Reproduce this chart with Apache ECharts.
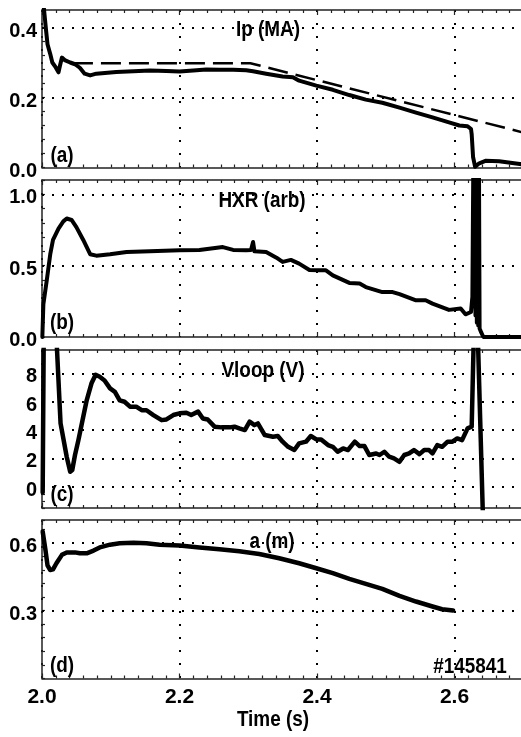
<!DOCTYPE html>
<html>
<head>
<meta charset="utf-8">
<script src="https://cdn.jsdelivr.net/npm/echarts@6/dist/echarts.min.js"></script>
<style>
html, body { margin: 0; padding: 0; background: #fff; }
#main { width: 521px; height: 737px; }
</style>
</head>
<body>
<div id="main"></div>
<script>
// shot #145841, time in s
var ipTime = [2.002, 2.006, 2.008, 2.012, 2.015, 2.020, 2.024, 2.026, 2.029, 2.033, 2.041, 2.048, 2.055, 2.062, 2.070, 2.079, 2.108, 2.133, 2.157, 2.181, 2.200, 2.220, 2.239, 2.258, 2.278, 2.297, 2.307, 2.326, 2.350, 2.365, 2.374, 2.399, 2.423, 2.447, 2.471, 2.495, 2.520, 2.544, 2.568, 2.592, 2.607, 2.619, 2.624, 2.625, 2.627, 2.630, 2.636, 2.645, 2.665, 2.684, 2.695, 2.700];
var ipVal = [0.47, 0.39, 0.352, 0.324, 0.300, 0.286, 0.272, 0.290, 0.314, 0.307, 0.300, 0.295, 0.285, 0.268, 0.263, 0.268, 0.273, 0.275, 0.277, 0.276, 0.274, 0.277, 0.280, 0.279, 0.279, 0.278, 0.275, 0.268, 0.260, 0.258, 0.248, 0.234, 0.222, 0.207, 0.194, 0.185, 0.171, 0.157, 0.143, 0.129, 0.120, 0.118, 0.110, 0.095, 0.030, 0.002, 0.012, 0.019, 0.018, 0.013, 0.010, 0.009];
var ipRefTime = [2.045, 2.303, 2.700];
var ipRefVal = [0.298, 0.298, 0.100];

var hxrTime = [2.0005, 2.002, 2.007, 2.012, 2.016, 2.024, 2.031, 2.036, 2.043, 2.050, 2.060, 2.070, 2.079, 2.099, 2.123, 2.157, 2.200, 2.229, 2.263, 2.278, 2.297, 2.304, 2.307, 2.309, 2.326, 2.341, 2.350, 2.362, 2.374, 2.389, 2.403, 2.413, 2.423, 2.447, 2.462, 2.471, 2.495, 2.510, 2.520, 2.544, 2.558, 2.568, 2.592, 2.609, 2.616, 2.624, 2.626, 2.6275, 2.6285, 2.6295, 2.6305, 2.6315, 2.6325, 2.6335, 2.6345, 2.6355, 2.6365, 2.639, 2.642, 2.700];
var hxrVal = [0.0, 0.23, 0.40, 0.58, 0.68, 0.76, 0.81, 0.83, 0.82, 0.77, 0.68, 0.58, 0.57, 0.58, 0.596, 0.60, 0.607, 0.61, 0.63, 0.61, 0.607, 0.61, 0.666, 0.60, 0.596, 0.556, 0.526, 0.54, 0.514, 0.47, 0.467, 0.467, 0.432, 0.379, 0.374, 0.35, 0.315, 0.315, 0.30, 0.257, 0.257, 0.234, 0.19, 0.20, 0.159, 0.175, 0.28, 1.3, 0.25, 1.3, 0.15, 1.3, 0.1, 1.3, 0.08, 1.3, 0.06, 0.03, 0.0, 0.0];

var vloopTime = [2.001, 2.003, 2.021, 2.027, 2.036, 2.041, 2.044, 2.048, 2.053, 2.060, 2.065, 2.072, 2.078, 2.084, 2.091, 2.099, 2.106, 2.113, 2.120, 2.128, 2.137, 2.145, 2.152, 2.162, 2.174, 2.181, 2.191, 2.200, 2.210, 2.217, 2.227, 2.234, 2.241, 2.251, 2.261, 2.273, 2.280, 2.287, 2.295, 2.302, 2.309, 2.314, 2.324, 2.336, 2.343, 2.350, 2.358, 2.367, 2.374, 2.384, 2.391, 2.399, 2.406, 2.416, 2.423, 2.430, 2.438, 2.445, 2.455, 2.462, 2.469, 2.476, 2.486, 2.491, 2.498, 2.505, 2.512, 2.520, 2.527, 2.534, 2.541, 2.549, 2.556, 2.563, 2.568, 2.575, 2.582, 2.590, 2.597, 2.604, 2.611, 2.619, 2.625, 2.628, 2.634, 2.641, 2.643];
var vloopVal = [-0.4, 14, 10.5, 4.47, 2.1, 1.06, 1.18, 2.24, 3.3, 4.94, 6.1, 7.3, 7.9, 7.76, 7.5, 6.94, 6.7, 6.1, 6.0, 5.65, 5.65, 5.4, 5.4, 5.06, 4.7, 4.75, 5.06, 5.18, 5.22, 5.06, 5.3, 4.82, 4.75, 4.24, 4.19, 4.19, 4.24, 4.12, 4.0, 4.59, 4.35, 4.47, 3.65, 3.53, 3.58, 3.18, 2.82, 2.59, 3.06, 3.18, 3.58, 3.34, 3.34, 2.94, 2.82, 2.47, 2.7, 2.59, 3.18, 2.87, 2.87, 2.24, 2.35, 2.24, 2.47, 2.12, 2.0, 1.76, 2.24, 2.35, 2.59, 2.3, 2.59, 2.59, 2.35, 2.94, 2.82, 3.18, 3.18, 3.41, 3.29, 4.12, 4.24, 10.5, 10.5, -1.5, -4];

var aTime = [2.001, 2.003, 2.005, 2.008, 2.012, 2.016, 2.021, 2.029, 2.036, 2.048, 2.055, 2.065, 2.075, 2.084, 2.099, 2.113, 2.133, 2.152, 2.171, 2.200, 2.229, 2.258, 2.287, 2.316, 2.345, 2.374, 2.399, 2.423, 2.447, 2.471, 2.495, 2.520, 2.544, 2.568, 2.582, 2.598];
var aVal = [0.649, 0.641, 0.568, 0.500, 0.479, 0.482, 0.509, 0.546, 0.557, 0.557, 0.553, 0.553, 0.565, 0.579, 0.591, 0.597, 0.599, 0.597, 0.591, 0.587, 0.579, 0.571, 0.562, 0.550, 0.531, 0.509, 0.487, 0.465, 0.440, 0.418, 0.396, 0.365, 0.340, 0.318, 0.306, 0.300];

var timeTicks = [2.0, 2.2, 2.4, 2.6];
var ipTicks = [0.0, 0.2, 0.4];
var hxrTicks = [0.0, 0.5, 1.0];
var vloopTicks = [0, 2, 4, 6, 8];
var aTicks = [0.3, 0.6];
var panelTitles = ['Ip (MA)', 'HXR (arb)', 'Vloop (V)', 'a (m)'];
var panelTags = ['(a)', '(b)', '(c)', '(d)'];

var FONT = '"Liberation Sans", Arial, sans-serif';
var AXIS_COLOR = '#222';

function pairs(t, v) {
  return t.map(function (x, i) { return [x, v[i]]; });
}

function pick(ticks, v, digits) {
  for (var k = 0; k < ticks.length; k++) {
    if (Math.abs(v - ticks[k]) < 1e-6) return ticks[k].toFixed(digits);
  }
  return '';
}

// panel layout: y range, minor step for ticks, labels
var panels = [
  { top: 10, height: 157.5, min: 0, max: 0.45, step: 0.04, ticks: ipTicks, digits: 1 },
  { top: 180, height: 157, min: 0, max: 1.1, step: 0.1, ticks: hxrTicks, digits: 1 },
  { top: 350, height: 158, min: -1.5, max: 9.65, step: 0.5, ticks: vloopTicks, digits: 0 },
  { top: 520, height: 158.5, min: 0, max: 0.7, step: 0.06, ticks: aTicks, digits: 1 }
];

var grids = [], xAxes = [], yAxes = [], series = [];

panels.forEach(function (p, i) {
  grids.push({ left: 42, width: 550, top: p.top, height: p.height, show: false, containLabel: false, outerBoundsMode: 'none' });
  var last = i === panels.length - 1;
  // bottom axis
  xAxes.push({
    type: 'value', gridIndex: i, position: 'bottom', min: 2.0, max: 2.8, interval: 0.2,
    axisLine: { show: true, onZero: false, lineStyle: { color: AXIS_COLOR, width: 1.5 } },
    axisTick: { show: true, inside: true, length: 5, lineStyle: { color: AXIS_COLOR, width: 1.2 } },
    minorTick: { show: true, splitNumber: 10, length: 3, lineStyle: { color: AXIS_COLOR, width: 1.2 } },
    splitLine: { show: true, lineStyle: { color: '#000', width: 2, type: [2, 11] } },
    axisLabel: {
      show: last, margin: 8, fontFamily: FONT, fontWeight: 'bold', fontSize: 21, color: '#000',
      formatter: function (v) { return pick(timeTicks, v, 1); }
    }
  });
  // top axis (frame)
  xAxes.push({
    type: 'value', gridIndex: i, position: 'top', min: 2.0, max: 2.8, interval: 0.2,
    axisLine: { show: true, onZero: false, lineStyle: { color: AXIS_COLOR, width: 1.5 } },
    axisTick: { show: true, inside: true, length: 5, lineStyle: { color: AXIS_COLOR, width: 1.2 } },
    minorTick: { show: true, splitNumber: 10, length: 3, lineStyle: { color: AXIS_COLOR, width: 1.2 } },
    splitLine: { show: false },
    axisLabel: { show: false }
  });
  yAxes.push({
    type: 'value', gridIndex: i, min: p.min, max: p.max, interval: p.step,
    axisLine: { show: true, onZero: false, lineStyle: { color: AXIS_COLOR, width: 1.5 } },
    axisTick: { show: true, inside: true, length: 3, lineStyle: { color: AXIS_COLOR, width: 1.2 } },
    splitLine: { show: false },
    axisLabel: {
      margin: 5, verticalAlign: 'top', lineHeight: 7,
      fontFamily: FONT, fontWeight: 'bold', fontSize: 20, color: '#000',
      formatter: function (v) { return pick(p.ticks, v, p.digits); }
    }
  });
});

// dotted horizontal grid lines at the labelled values
function gridMark(ticks, withZero) {
  return {
    silent: true, symbol: 'none', animation: false, label: { show: false },
    lineStyle: { color: '#000', width: 2, type: [2, 8] },
    data: ticks.filter(function (t) { return withZero || t !== 0; }).map(function (t) {
      return { yAxis: t };
    })
  };
}

function lineSeries(i, data, width, mark) {
  var s = {
    type: 'line', xAxisIndex: i * 2, yAxisIndex: i, data: data,
    showSymbol: false, symbol: 'none', animation: false, z: 5,
    lineStyle: { color: '#000', width: width, join: 'round', cap: 'round' }
  };
  if (mark) s.markLine = mark;
  return s;
}

series.push(lineSeries(0, pairs(ipTime, ipVal), 4, gridMark(ipTicks, false)));
var dashed = lineSeries(0, pairs(ipRefTime, ipRefVal), 2.5);
dashed.lineStyle.type = [20, 8];
dashed.lineStyle.cap = 'butt';
series.push(dashed);
series.push(lineSeries(1, pairs(hxrTime, hxrVal), 4, gridMark(hxrTicks, false)));
series.push(lineSeries(2, pairs(vloopTime, vloopVal), 4.5, gridMark(vloopTicks, true)));
series.push(lineSeries(3, pairs(aTime, aVal), 4.5, gridMark(aTicks, true)));

// narrow bold lettering, squeezed horizontally
var textFont = 'bold 22px ' + FONT;
function label(text, x, y) {
  return {
    type: 'text', x: x, y: y, scaleX: 0.86, silent: true, z: 10,
    style: { text: text, font: textFont, fill: '#000', textAlign: 'center', textVerticalAlign: 'middle' }
  };
}

var titleY = [30, 201, 371, 542];
var titleX = [268, 262, 263, 272];
var tagY = [156, 323, 495, 666];
var graphics = [];
panelTitles.forEach(function (t, i) { graphics.push(label(t, titleX[i], titleY[i])); });
panelTags.forEach(function (t, i) { graphics.push(label(t, 62, tagY[i])); });
graphics.push(label('#145841', 470, 667));
graphics.push(label('Time (s)', 273, 720));

var myChart = echarts.init(document.querySelector('#main'));
var option = {
  backgroundColor: '#fff',
  animation: false,
  grid: grids,
  xAxis: xAxes,
  yAxis: yAxes,
  series: series,
  graphic: graphics
};
myChart.setOption(option);
</script>
</body>
</html>
